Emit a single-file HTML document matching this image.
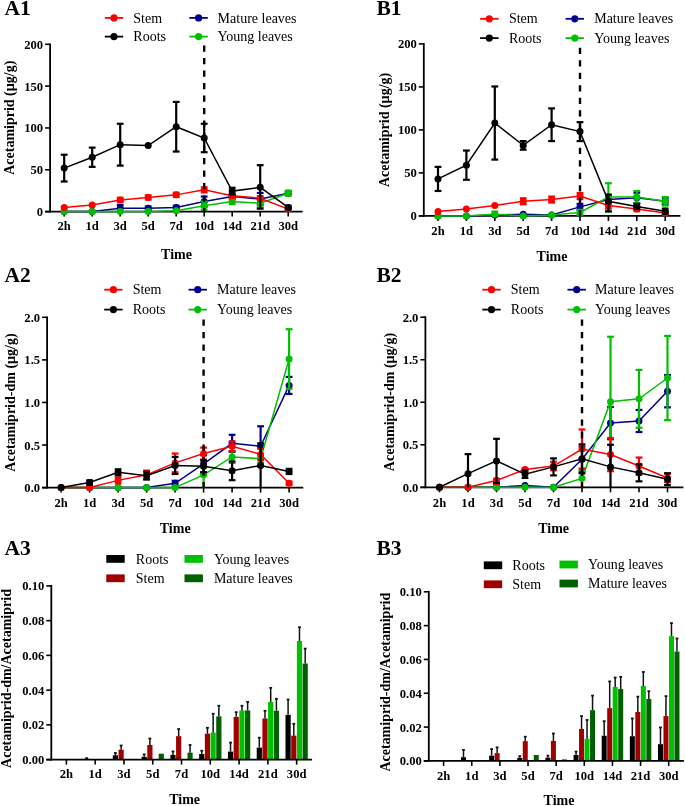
<!DOCTYPE html>
<html><head><meta charset="utf-8"><title>Acetamiprid figure</title>
<style>
html,body{margin:0;padding:0;background:#fff;}
body{width:685px;height:806px;overflow:hidden;}
svg{display:block;will-change:transform;}
text{font-family:"Liberation Serif",serif;fill:#000;}
.tk{font-size:12.6px;font-weight:bold;}
.ttl{font-size:14px;font-weight:bold;}
.pl{font-size:21.5px;font-weight:bold;}
.lg{font-size:14px;}
</style></head>
<body>
<svg width="685" height="806" viewBox="0 0 685 806">
<rect width="685" height="806" fill="#fff"/>
<line x1="50.1" y1="43.4" x2="50.1" y2="212.5" stroke="#000" stroke-width="1.8"/>
<line x1="45.1" y1="211.6" x2="302.6" y2="211.6" stroke="#000" stroke-width="1.8"/>
<line x1="45.1" y1="211.6" x2="50.1" y2="211.6" stroke="#000" stroke-width="1.6"/>
<text x="43.1" y="216.1" class="tk" text-anchor="end">0</text>
<line x1="45.1" y1="169.77" x2="50.1" y2="169.77" stroke="#000" stroke-width="1.6"/>
<text x="43.1" y="174.27" class="tk" text-anchor="end">50</text>
<line x1="45.1" y1="127.95" x2="50.1" y2="127.95" stroke="#000" stroke-width="1.6"/>
<text x="43.1" y="132.45" class="tk" text-anchor="end">100</text>
<line x1="45.1" y1="86.12" x2="50.1" y2="86.12" stroke="#000" stroke-width="1.6"/>
<text x="43.1" y="90.62" class="tk" text-anchor="end">150</text>
<line x1="45.1" y1="44.3" x2="50.1" y2="44.3" stroke="#000" stroke-width="1.6"/>
<text x="43.1" y="48.8" class="tk" text-anchor="end">200</text>
<line x1="64.2" y1="211.6" x2="64.2" y2="216.6" stroke="#000" stroke-width="1.6"/>
<text x="64.2" y="229.8" class="tk" text-anchor="middle">2h</text>
<line x1="92.2" y1="211.6" x2="92.2" y2="216.6" stroke="#000" stroke-width="1.6"/>
<text x="92.2" y="229.8" class="tk" text-anchor="middle">1d</text>
<line x1="120.2" y1="211.6" x2="120.2" y2="216.6" stroke="#000" stroke-width="1.6"/>
<text x="120.2" y="229.8" class="tk" text-anchor="middle">3d</text>
<line x1="148.2" y1="211.6" x2="148.2" y2="216.6" stroke="#000" stroke-width="1.6"/>
<text x="148.2" y="229.8" class="tk" text-anchor="middle">5d</text>
<line x1="176.2" y1="211.6" x2="176.2" y2="216.6" stroke="#000" stroke-width="1.6"/>
<text x="176.2" y="229.8" class="tk" text-anchor="middle">7d</text>
<line x1="204.2" y1="211.6" x2="204.2" y2="216.6" stroke="#000" stroke-width="1.6"/>
<text x="204.2" y="229.8" class="tk" text-anchor="middle">10d</text>
<line x1="232.2" y1="211.6" x2="232.2" y2="216.6" stroke="#000" stroke-width="1.6"/>
<text x="232.2" y="229.8" class="tk" text-anchor="middle">14d</text>
<line x1="260.2" y1="211.6" x2="260.2" y2="216.6" stroke="#000" stroke-width="1.6"/>
<text x="260.2" y="229.8" class="tk" text-anchor="middle">21d</text>
<line x1="288.2" y1="211.6" x2="288.2" y2="216.6" stroke="#000" stroke-width="1.6"/>
<text x="288.2" y="229.8" class="tk" text-anchor="middle">30d</text>
<text x="176.5" y="258.5" class="ttl" text-anchor="middle">Time</text>
<text x="4.6" y="14.6" class="pl">A1</text>
<text transform="translate(13.9,117.7) rotate(-90)" class="ttl" text-anchor="middle">Acetamiprid (µg/g)</text>
<polyline points="64.2,211.6 92.2,211.6 120.2,208.25 148.2,208.25 176.2,207.42 204.2,201.56 232.2,196.54 260.2,199.05 288.2,193.2" fill="none" stroke="#000090" stroke-width="1.5"/>
<circle cx="64.2" cy="211.6" r="3.5" fill="#000090"/>
<circle cx="92.2" cy="211.6" r="3.5" fill="#000090"/>
<line x1="120.2" y1="211.6" x2="120.2" y2="204.91" stroke="#000090" stroke-width="2.2"/>
<line x1="116.8" y1="204.91" x2="123.6" y2="204.91" stroke="#000090" stroke-width="2.2"/>
<circle cx="120.2" cy="208.25" r="3.5" fill="#000090"/>
<line x1="148.2" y1="209.93" x2="148.2" y2="206.58" stroke="#000090" stroke-width="2.2"/>
<line x1="144.8" y1="206.58" x2="151.6" y2="206.58" stroke="#000090" stroke-width="2.2"/>
<line x1="144.8" y1="209.93" x2="151.6" y2="209.93" stroke="#000090" stroke-width="2.2"/>
<circle cx="148.2" cy="208.25" r="3.5" fill="#000090"/>
<line x1="176.2" y1="209.09" x2="176.2" y2="205.74" stroke="#000090" stroke-width="2.2"/>
<line x1="172.8" y1="205.74" x2="179.6" y2="205.74" stroke="#000090" stroke-width="2.2"/>
<line x1="172.8" y1="209.09" x2="179.6" y2="209.09" stroke="#000090" stroke-width="2.2"/>
<circle cx="176.2" cy="207.42" r="3.5" fill="#000090"/>
<line x1="204.2" y1="206.58" x2="204.2" y2="196.54" stroke="#000090" stroke-width="2.2"/>
<line x1="200.8" y1="196.54" x2="207.6" y2="196.54" stroke="#000090" stroke-width="2.2"/>
<line x1="200.8" y1="206.58" x2="207.6" y2="206.58" stroke="#000090" stroke-width="2.2"/>
<circle cx="204.2" cy="201.56" r="3.5" fill="#000090"/>
<line x1="232.2" y1="199.05" x2="232.2" y2="194.03" stroke="#000090" stroke-width="2.2"/>
<line x1="228.8" y1="194.03" x2="235.6" y2="194.03" stroke="#000090" stroke-width="2.2"/>
<line x1="228.8" y1="199.05" x2="235.6" y2="199.05" stroke="#000090" stroke-width="2.2"/>
<circle cx="232.2" cy="196.54" r="3.5" fill="#000090"/>
<line x1="260.2" y1="205.16" x2="260.2" y2="192.95" stroke="#000090" stroke-width="2.2"/>
<line x1="256.8" y1="192.95" x2="263.6" y2="192.95" stroke="#000090" stroke-width="2.2"/>
<line x1="256.8" y1="205.16" x2="263.6" y2="205.16" stroke="#000090" stroke-width="2.2"/>
<circle cx="260.2" cy="199.05" r="3.5" fill="#000090"/>
<line x1="288.2" y1="194.87" x2="288.2" y2="191.52" stroke="#000090" stroke-width="2.2"/>
<line x1="284.8" y1="191.52" x2="291.6" y2="191.52" stroke="#000090" stroke-width="2.2"/>
<line x1="284.8" y1="194.87" x2="291.6" y2="194.87" stroke="#000090" stroke-width="2.2"/>
<circle cx="288.2" cy="193.2" r="3.5" fill="#000090"/>
<polyline points="64.2,211.6 92.2,211.6 120.2,211.6 148.2,211.6 176.2,210.76 204.2,205.74 232.2,201.56 260.2,203.23 288.2,193.2" fill="none" stroke="#00c000" stroke-width="1.5"/>
<circle cx="64.2" cy="211.6" r="3.5" fill="#00c000"/>
<circle cx="92.2" cy="211.6" r="3.5" fill="#00c000"/>
<circle cx="120.2" cy="211.6" r="3.5" fill="#00c000"/>
<circle cx="148.2" cy="211.6" r="3.5" fill="#00c000"/>
<circle cx="176.2" cy="210.76" r="3.5" fill="#00c000"/>
<line x1="204.2" y1="209.93" x2="204.2" y2="201.56" stroke="#00c000" stroke-width="2.2"/>
<line x1="200.8" y1="201.56" x2="207.6" y2="201.56" stroke="#00c000" stroke-width="2.2"/>
<line x1="200.8" y1="209.93" x2="207.6" y2="209.93" stroke="#00c000" stroke-width="2.2"/>
<circle cx="204.2" cy="205.74" r="3.5" fill="#00c000"/>
<line x1="232.2" y1="204.07" x2="232.2" y2="199.05" stroke="#00c000" stroke-width="2.2"/>
<line x1="228.8" y1="199.05" x2="235.6" y2="199.05" stroke="#00c000" stroke-width="2.2"/>
<line x1="228.8" y1="204.07" x2="235.6" y2="204.07" stroke="#00c000" stroke-width="2.2"/>
<circle cx="232.2" cy="201.56" r="3.5" fill="#00c000"/>
<line x1="260.2" y1="207.42" x2="260.2" y2="199.05" stroke="#00c000" stroke-width="2.2"/>
<line x1="256.8" y1="199.05" x2="263.6" y2="199.05" stroke="#00c000" stroke-width="2.2"/>
<line x1="256.8" y1="207.42" x2="263.6" y2="207.42" stroke="#00c000" stroke-width="2.2"/>
<circle cx="260.2" cy="203.23" r="3.5" fill="#00c000"/>
<line x1="288.2" y1="195.71" x2="288.2" y2="190.69" stroke="#00c000" stroke-width="2.2"/>
<line x1="284.8" y1="190.69" x2="291.6" y2="190.69" stroke="#00c000" stroke-width="2.2"/>
<line x1="284.8" y1="195.71" x2="291.6" y2="195.71" stroke="#00c000" stroke-width="2.2"/>
<circle cx="288.2" cy="193.2" r="3.5" fill="#00c000"/>
<polyline points="64.2,207.42 92.2,204.91 120.2,199.89 148.2,197.38 176.2,194.87 204.2,189.85 232.2,195.71 260.2,198.22 288.2,209.09" fill="none" stroke="#ff0000" stroke-width="1.5"/>
<circle cx="64.2" cy="207.42" r="3.5" fill="#ff0000"/>
<circle cx="92.2" cy="204.91" r="3.5" fill="#ff0000"/>
<line x1="120.2" y1="201.98" x2="120.2" y2="197.8" stroke="#ff0000" stroke-width="2.2"/>
<line x1="116.8" y1="197.8" x2="123.6" y2="197.8" stroke="#ff0000" stroke-width="2.2"/>
<line x1="116.8" y1="201.98" x2="123.6" y2="201.98" stroke="#ff0000" stroke-width="2.2"/>
<circle cx="120.2" cy="199.89" r="3.5" fill="#ff0000"/>
<line x1="148.2" y1="199.47" x2="148.2" y2="195.29" stroke="#ff0000" stroke-width="2.2"/>
<line x1="144.8" y1="195.29" x2="151.6" y2="195.29" stroke="#ff0000" stroke-width="2.2"/>
<line x1="144.8" y1="199.47" x2="151.6" y2="199.47" stroke="#ff0000" stroke-width="2.2"/>
<circle cx="148.2" cy="197.38" r="3.5" fill="#ff0000"/>
<line x1="176.2" y1="196.96" x2="176.2" y2="192.78" stroke="#ff0000" stroke-width="2.2"/>
<line x1="172.8" y1="192.78" x2="179.6" y2="192.78" stroke="#ff0000" stroke-width="2.2"/>
<line x1="172.8" y1="196.96" x2="179.6" y2="196.96" stroke="#ff0000" stroke-width="2.2"/>
<circle cx="176.2" cy="194.87" r="3.5" fill="#ff0000"/>
<line x1="204.2" y1="192.36" x2="204.2" y2="187.34" stroke="#ff0000" stroke-width="2.2"/>
<line x1="200.8" y1="187.34" x2="207.6" y2="187.34" stroke="#ff0000" stroke-width="2.2"/>
<line x1="200.8" y1="192.36" x2="207.6" y2="192.36" stroke="#ff0000" stroke-width="2.2"/>
<circle cx="204.2" cy="189.85" r="3.5" fill="#ff0000"/>
<line x1="232.2" y1="197.8" x2="232.2" y2="193.62" stroke="#ff0000" stroke-width="2.2"/>
<line x1="228.8" y1="193.62" x2="235.6" y2="193.62" stroke="#ff0000" stroke-width="2.2"/>
<line x1="228.8" y1="197.8" x2="235.6" y2="197.8" stroke="#ff0000" stroke-width="2.2"/>
<circle cx="232.2" cy="195.71" r="3.5" fill="#ff0000"/>
<line x1="260.2" y1="200.31" x2="260.2" y2="196.12" stroke="#ff0000" stroke-width="2.2"/>
<line x1="256.8" y1="196.12" x2="263.6" y2="196.12" stroke="#ff0000" stroke-width="2.2"/>
<line x1="256.8" y1="200.31" x2="263.6" y2="200.31" stroke="#ff0000" stroke-width="2.2"/>
<circle cx="260.2" cy="198.22" r="3.5" fill="#ff0000"/>
<line x1="288.2" y1="210.76" x2="288.2" y2="207.42" stroke="#ff0000" stroke-width="2.2"/>
<line x1="284.8" y1="207.42" x2="291.6" y2="207.42" stroke="#ff0000" stroke-width="2.2"/>
<line x1="284.8" y1="210.76" x2="291.6" y2="210.76" stroke="#ff0000" stroke-width="2.2"/>
<circle cx="288.2" cy="209.09" r="3.5" fill="#ff0000"/>
<polyline points="64.2,168.1 92.2,157.23 120.2,144.68 148.2,145.52 176.2,126.7 204.2,137.99 232.2,191.11 260.2,187.34 288.2,207.42" fill="none" stroke="#000000" stroke-width="1.5"/>
<line x1="64.2" y1="181.49" x2="64.2" y2="154.72" stroke="#000000" stroke-width="2.2"/>
<line x1="60.8" y1="154.72" x2="67.6" y2="154.72" stroke="#000000" stroke-width="2.2"/>
<line x1="60.8" y1="181.49" x2="67.6" y2="181.49" stroke="#000000" stroke-width="2.2"/>
<circle cx="64.2" cy="168.1" r="3.5" fill="#000000"/>
<line x1="92.2" y1="166.85" x2="92.2" y2="147.61" stroke="#000000" stroke-width="2.2"/>
<line x1="88.8" y1="147.61" x2="95.6" y2="147.61" stroke="#000000" stroke-width="2.2"/>
<line x1="88.8" y1="166.85" x2="95.6" y2="166.85" stroke="#000000" stroke-width="2.2"/>
<circle cx="92.2" cy="157.23" r="3.5" fill="#000000"/>
<line x1="120.2" y1="165.59" x2="120.2" y2="123.77" stroke="#000000" stroke-width="2.2"/>
<line x1="116.8" y1="123.77" x2="123.6" y2="123.77" stroke="#000000" stroke-width="2.2"/>
<line x1="116.8" y1="165.59" x2="123.6" y2="165.59" stroke="#000000" stroke-width="2.2"/>
<circle cx="120.2" cy="144.68" r="3.5" fill="#000000"/>
<circle cx="148.2" cy="145.52" r="3.5" fill="#000000"/>
<line x1="176.2" y1="151.54" x2="176.2" y2="101.93" stroke="#000000" stroke-width="2.2"/>
<line x1="172.8" y1="101.93" x2="179.6" y2="101.93" stroke="#000000" stroke-width="2.2"/>
<line x1="172.8" y1="151.54" x2="179.6" y2="151.54" stroke="#000000" stroke-width="2.2"/>
<circle cx="176.2" cy="126.7" r="3.5" fill="#000000"/>
<line x1="204.2" y1="152.21" x2="204.2" y2="123.77" stroke="#000000" stroke-width="2.2"/>
<line x1="200.8" y1="123.77" x2="207.6" y2="123.77" stroke="#000000" stroke-width="2.2"/>
<line x1="200.8" y1="152.21" x2="207.6" y2="152.21" stroke="#000000" stroke-width="2.2"/>
<circle cx="204.2" cy="137.99" r="3.5" fill="#000000"/>
<line x1="232.2" y1="194.45" x2="232.2" y2="187.76" stroke="#000000" stroke-width="2.2"/>
<line x1="228.8" y1="187.76" x2="235.6" y2="187.76" stroke="#000000" stroke-width="2.2"/>
<line x1="228.8" y1="194.45" x2="235.6" y2="194.45" stroke="#000000" stroke-width="2.2"/>
<circle cx="232.2" cy="191.11" r="3.5" fill="#000000"/>
<line x1="260.2" y1="208.67" x2="260.2" y2="165.17" stroke="#000000" stroke-width="2.2"/>
<line x1="256.8" y1="165.17" x2="263.6" y2="165.17" stroke="#000000" stroke-width="2.2"/>
<line x1="256.8" y1="208.67" x2="263.6" y2="208.67" stroke="#000000" stroke-width="2.2"/>
<circle cx="260.2" cy="187.34" r="3.5" fill="#000000"/>
<line x1="288.2" y1="209.09" x2="288.2" y2="205.74" stroke="#000000" stroke-width="2.2"/>
<line x1="284.8" y1="205.74" x2="291.6" y2="205.74" stroke="#000000" stroke-width="2.2"/>
<line x1="284.8" y1="209.09" x2="291.6" y2="209.09" stroke="#000000" stroke-width="2.2"/>
<circle cx="288.2" cy="207.42" r="3.5" fill="#000000"/>
<line x1="204.2" y1="45.4" x2="204.2" y2="211.6" stroke="#000" stroke-width="2.4" stroke-dasharray="6.3,6.2"/>
<line x1="104.8" y1="17.9" x2="123.2" y2="17.9" stroke="#ff0000" stroke-width="1.8"/>
<circle cx="114" cy="17.9" r="3.6" fill="#ff0000"/>
<text x="133.3" y="22.5" class="lg">Stem</text>
<line x1="104.8" y1="36.6" x2="123.2" y2="36.6" stroke="#000000" stroke-width="1.8"/>
<circle cx="114" cy="36.6" r="3.6" fill="#000000"/>
<text x="133.3" y="41.2" class="lg">Roots</text>
<line x1="189.4" y1="17.9" x2="207.8" y2="17.9" stroke="#000090" stroke-width="1.8"/>
<circle cx="198.6" cy="17.9" r="3.6" fill="#000090"/>
<text x="217.6" y="22.5" class="lg">Mature leaves</text>
<line x1="189.4" y1="36.6" x2="207.8" y2="36.6" stroke="#00c000" stroke-width="1.8"/>
<circle cx="198.6" cy="36.6" r="3.6" fill="#00c000"/>
<text x="217.6" y="41.2" class="lg">Young leaves</text>
<line x1="423.8" y1="43" x2="423.8" y2="216.8" stroke="#000" stroke-width="1.8"/>
<line x1="418.8" y1="215.9" x2="680.4" y2="215.9" stroke="#000" stroke-width="1.8"/>
<line x1="418.8" y1="215.9" x2="423.8" y2="215.9" stroke="#000" stroke-width="1.6"/>
<text x="416.8" y="220.4" class="tk" text-anchor="end">0</text>
<line x1="418.8" y1="172.9" x2="423.8" y2="172.9" stroke="#000" stroke-width="1.6"/>
<text x="416.8" y="177.4" class="tk" text-anchor="end">50</text>
<line x1="418.8" y1="129.9" x2="423.8" y2="129.9" stroke="#000" stroke-width="1.6"/>
<text x="416.8" y="134.4" class="tk" text-anchor="end">100</text>
<line x1="418.8" y1="86.9" x2="423.8" y2="86.9" stroke="#000" stroke-width="1.6"/>
<text x="416.8" y="91.4" class="tk" text-anchor="end">150</text>
<line x1="418.8" y1="43.9" x2="423.8" y2="43.9" stroke="#000" stroke-width="1.6"/>
<text x="416.8" y="48.4" class="tk" text-anchor="end">200</text>
<line x1="438" y1="215.9" x2="438" y2="220.9" stroke="#000" stroke-width="1.6"/>
<text x="438" y="234.6" class="tk" text-anchor="middle">2h</text>
<line x1="466.4" y1="215.9" x2="466.4" y2="220.9" stroke="#000" stroke-width="1.6"/>
<text x="466.4" y="234.6" class="tk" text-anchor="middle">1d</text>
<line x1="494.8" y1="215.9" x2="494.8" y2="220.9" stroke="#000" stroke-width="1.6"/>
<text x="494.8" y="234.6" class="tk" text-anchor="middle">3d</text>
<line x1="523.2" y1="215.9" x2="523.2" y2="220.9" stroke="#000" stroke-width="1.6"/>
<text x="523.2" y="234.6" class="tk" text-anchor="middle">5d</text>
<line x1="551.6" y1="215.9" x2="551.6" y2="220.9" stroke="#000" stroke-width="1.6"/>
<text x="551.6" y="234.6" class="tk" text-anchor="middle">7d</text>
<line x1="580" y1="215.9" x2="580" y2="220.9" stroke="#000" stroke-width="1.6"/>
<text x="580" y="234.6" class="tk" text-anchor="middle">10d</text>
<line x1="608.4" y1="215.9" x2="608.4" y2="220.9" stroke="#000" stroke-width="1.6"/>
<text x="608.4" y="234.6" class="tk" text-anchor="middle">14d</text>
<line x1="636.8" y1="215.9" x2="636.8" y2="220.9" stroke="#000" stroke-width="1.6"/>
<text x="636.8" y="234.6" class="tk" text-anchor="middle">21d</text>
<line x1="665.2" y1="215.9" x2="665.2" y2="220.9" stroke="#000" stroke-width="1.6"/>
<text x="665.2" y="234.6" class="tk" text-anchor="middle">30d</text>
<text x="552" y="261.3" class="ttl" text-anchor="middle">Time</text>
<text x="376.4" y="14.6" class="pl">B1</text>
<text transform="translate(388.9,129.9) rotate(-90)" class="ttl" text-anchor="middle">Acetamiprid (µg/g)</text>
<polyline points="438,215.9 466.4,215.9 494.8,215.04 523.2,214.18 551.6,215.04 580,206.87 608.4,199.56 636.8,197.84 665.2,201.28" fill="none" stroke="#000090" stroke-width="1.5"/>
<circle cx="438" cy="215.9" r="3.5" fill="#000090"/>
<circle cx="466.4" cy="215.9" r="3.5" fill="#000090"/>
<circle cx="494.8" cy="215.04" r="3.5" fill="#000090"/>
<circle cx="523.2" cy="214.18" r="3.5" fill="#000090"/>
<circle cx="551.6" cy="215.04" r="3.5" fill="#000090"/>
<line x1="580" y1="209.88" x2="580" y2="203.86" stroke="#000090" stroke-width="2.2"/>
<line x1="576.6" y1="203.86" x2="583.4" y2="203.86" stroke="#000090" stroke-width="2.2"/>
<line x1="576.6" y1="209.88" x2="583.4" y2="209.88" stroke="#000090" stroke-width="2.2"/>
<circle cx="580" cy="206.87" r="3.5" fill="#000090"/>
<line x1="608.4" y1="203" x2="608.4" y2="196.12" stroke="#000090" stroke-width="2.2"/>
<line x1="605" y1="196.12" x2="611.8" y2="196.12" stroke="#000090" stroke-width="2.2"/>
<line x1="605" y1="203" x2="611.8" y2="203" stroke="#000090" stroke-width="2.2"/>
<circle cx="608.4" cy="199.56" r="3.5" fill="#000090"/>
<line x1="636.8" y1="203" x2="636.8" y2="192.68" stroke="#000090" stroke-width="2.2"/>
<line x1="633.4" y1="192.68" x2="640.2" y2="192.68" stroke="#000090" stroke-width="2.2"/>
<line x1="633.4" y1="203" x2="640.2" y2="203" stroke="#000090" stroke-width="2.2"/>
<circle cx="636.8" cy="197.84" r="3.5" fill="#000090"/>
<line x1="665.2" y1="204.29" x2="665.2" y2="198.27" stroke="#000090" stroke-width="2.2"/>
<line x1="661.8" y1="198.27" x2="668.6" y2="198.27" stroke="#000090" stroke-width="2.2"/>
<line x1="661.8" y1="204.29" x2="668.6" y2="204.29" stroke="#000090" stroke-width="2.2"/>
<circle cx="665.2" cy="201.28" r="3.5" fill="#000090"/>
<polyline points="438,215.9 466.4,215.9 494.8,214.18 523.2,215.9 551.6,215.04 580,212.46 608.4,196.98 636.8,196.98 665.2,201.28" fill="none" stroke="#00c000" stroke-width="1.5"/>
<circle cx="438" cy="215.9" r="3.5" fill="#00c000"/>
<circle cx="466.4" cy="215.9" r="3.5" fill="#00c000"/>
<line x1="494.8" y1="215.9" x2="494.8" y2="211.6" stroke="#00c000" stroke-width="2.2"/>
<line x1="491.4" y1="211.6" x2="498.2" y2="211.6" stroke="#00c000" stroke-width="2.2"/>
<circle cx="494.8" cy="214.18" r="3.5" fill="#00c000"/>
<circle cx="523.2" cy="215.9" r="3.5" fill="#00c000"/>
<circle cx="551.6" cy="215.04" r="3.5" fill="#00c000"/>
<line x1="580" y1="215.04" x2="580" y2="209.88" stroke="#00c000" stroke-width="2.2"/>
<line x1="576.6" y1="209.88" x2="583.4" y2="209.88" stroke="#00c000" stroke-width="2.2"/>
<line x1="576.6" y1="215.04" x2="583.4" y2="215.04" stroke="#00c000" stroke-width="2.2"/>
<circle cx="580" cy="212.46" r="3.5" fill="#00c000"/>
<line x1="608.4" y1="211.6" x2="608.4" y2="183.22" stroke="#00c000" stroke-width="2.2"/>
<line x1="605" y1="183.22" x2="611.8" y2="183.22" stroke="#00c000" stroke-width="2.2"/>
<line x1="605" y1="211.6" x2="611.8" y2="211.6" stroke="#00c000" stroke-width="2.2"/>
<circle cx="608.4" cy="196.98" r="3.5" fill="#00c000"/>
<line x1="636.8" y1="203" x2="636.8" y2="190.96" stroke="#00c000" stroke-width="2.2"/>
<line x1="633.4" y1="190.96" x2="640.2" y2="190.96" stroke="#00c000" stroke-width="2.2"/>
<line x1="633.4" y1="203" x2="640.2" y2="203" stroke="#00c000" stroke-width="2.2"/>
<circle cx="636.8" cy="196.98" r="3.5" fill="#00c000"/>
<line x1="665.2" y1="205.58" x2="665.2" y2="196.98" stroke="#00c000" stroke-width="2.2"/>
<line x1="661.8" y1="196.98" x2="668.6" y2="196.98" stroke="#00c000" stroke-width="2.2"/>
<line x1="661.8" y1="205.58" x2="668.6" y2="205.58" stroke="#00c000" stroke-width="2.2"/>
<circle cx="665.2" cy="201.28" r="3.5" fill="#00c000"/>
<polyline points="438,211.6 466.4,209.02 494.8,205.58 523.2,201.28 551.6,199.56 580,196.12 608.4,205.58 636.8,209.02 665.2,212.89" fill="none" stroke="#ff0000" stroke-width="1.5"/>
<circle cx="438" cy="211.6" r="3.5" fill="#ff0000"/>
<circle cx="466.4" cy="209.02" r="3.5" fill="#ff0000"/>
<circle cx="494.8" cy="205.58" r="3.5" fill="#ff0000"/>
<line x1="523.2" y1="204.29" x2="523.2" y2="198.27" stroke="#ff0000" stroke-width="2.2"/>
<line x1="519.8" y1="198.27" x2="526.6" y2="198.27" stroke="#ff0000" stroke-width="2.2"/>
<line x1="519.8" y1="204.29" x2="526.6" y2="204.29" stroke="#ff0000" stroke-width="2.2"/>
<circle cx="523.2" cy="201.28" r="3.5" fill="#ff0000"/>
<line x1="551.6" y1="202.57" x2="551.6" y2="196.55" stroke="#ff0000" stroke-width="2.2"/>
<line x1="548.2" y1="196.55" x2="555" y2="196.55" stroke="#ff0000" stroke-width="2.2"/>
<line x1="548.2" y1="202.57" x2="555" y2="202.57" stroke="#ff0000" stroke-width="2.2"/>
<circle cx="551.6" cy="199.56" r="3.5" fill="#ff0000"/>
<line x1="580" y1="199.13" x2="580" y2="193.11" stroke="#ff0000" stroke-width="2.2"/>
<line x1="576.6" y1="193.11" x2="583.4" y2="193.11" stroke="#ff0000" stroke-width="2.2"/>
<line x1="576.6" y1="199.13" x2="583.4" y2="199.13" stroke="#ff0000" stroke-width="2.2"/>
<circle cx="580" cy="196.12" r="3.5" fill="#ff0000"/>
<line x1="608.4" y1="208.59" x2="608.4" y2="202.57" stroke="#ff0000" stroke-width="2.2"/>
<line x1="605" y1="202.57" x2="611.8" y2="202.57" stroke="#ff0000" stroke-width="2.2"/>
<line x1="605" y1="208.59" x2="611.8" y2="208.59" stroke="#ff0000" stroke-width="2.2"/>
<circle cx="608.4" cy="205.58" r="3.5" fill="#ff0000"/>
<line x1="636.8" y1="211.17" x2="636.8" y2="206.87" stroke="#ff0000" stroke-width="2.2"/>
<line x1="633.4" y1="206.87" x2="640.2" y2="206.87" stroke="#ff0000" stroke-width="2.2"/>
<line x1="633.4" y1="211.17" x2="640.2" y2="211.17" stroke="#ff0000" stroke-width="2.2"/>
<circle cx="636.8" cy="209.02" r="3.5" fill="#ff0000"/>
<line x1="665.2" y1="214.61" x2="665.2" y2="211.17" stroke="#ff0000" stroke-width="2.2"/>
<line x1="661.8" y1="211.17" x2="668.6" y2="211.17" stroke="#ff0000" stroke-width="2.2"/>
<line x1="661.8" y1="214.61" x2="668.6" y2="214.61" stroke="#ff0000" stroke-width="2.2"/>
<circle cx="665.2" cy="212.89" r="3.5" fill="#ff0000"/>
<polyline points="438,178.92 466.4,165.16 494.8,123.02 523.2,145.38 551.6,124.74 580,131.62 608.4,201.28 636.8,206.44 665.2,211.17" fill="none" stroke="#000000" stroke-width="1.5"/>
<line x1="438" y1="190.96" x2="438" y2="166.88" stroke="#000000" stroke-width="2.2"/>
<line x1="434.6" y1="166.88" x2="441.4" y2="166.88" stroke="#000000" stroke-width="2.2"/>
<line x1="434.6" y1="190.96" x2="441.4" y2="190.96" stroke="#000000" stroke-width="2.2"/>
<circle cx="438" cy="178.92" r="3.5" fill="#000000"/>
<line x1="466.4" y1="179.78" x2="466.4" y2="150.54" stroke="#000000" stroke-width="2.2"/>
<line x1="463" y1="150.54" x2="469.8" y2="150.54" stroke="#000000" stroke-width="2.2"/>
<line x1="463" y1="179.78" x2="469.8" y2="179.78" stroke="#000000" stroke-width="2.2"/>
<circle cx="466.4" cy="165.16" r="3.5" fill="#000000"/>
<line x1="494.8" y1="159.57" x2="494.8" y2="86.47" stroke="#000000" stroke-width="2.2"/>
<line x1="491.4" y1="86.47" x2="498.2" y2="86.47" stroke="#000000" stroke-width="2.2"/>
<line x1="491.4" y1="159.57" x2="498.2" y2="159.57" stroke="#000000" stroke-width="2.2"/>
<circle cx="494.8" cy="123.02" r="3.5" fill="#000000"/>
<line x1="523.2" y1="149.68" x2="523.2" y2="141.08" stroke="#000000" stroke-width="2.2"/>
<line x1="519.8" y1="141.08" x2="526.6" y2="141.08" stroke="#000000" stroke-width="2.2"/>
<line x1="519.8" y1="149.68" x2="526.6" y2="149.68" stroke="#000000" stroke-width="2.2"/>
<circle cx="523.2" cy="145.38" r="3.5" fill="#000000"/>
<line x1="551.6" y1="141.08" x2="551.6" y2="108.4" stroke="#000000" stroke-width="2.2"/>
<line x1="548.2" y1="108.4" x2="555" y2="108.4" stroke="#000000" stroke-width="2.2"/>
<line x1="548.2" y1="141.08" x2="555" y2="141.08" stroke="#000000" stroke-width="2.2"/>
<circle cx="551.6" cy="124.74" r="3.5" fill="#000000"/>
<line x1="580" y1="141.08" x2="580" y2="122.16" stroke="#000000" stroke-width="2.2"/>
<line x1="576.6" y1="122.16" x2="583.4" y2="122.16" stroke="#000000" stroke-width="2.2"/>
<line x1="576.6" y1="141.08" x2="583.4" y2="141.08" stroke="#000000" stroke-width="2.2"/>
<circle cx="580" cy="131.62" r="3.5" fill="#000000"/>
<line x1="608.4" y1="211.34" x2="608.4" y2="194.57" stroke="#000000" stroke-width="2.2"/>
<line x1="605" y1="194.57" x2="611.8" y2="194.57" stroke="#000000" stroke-width="2.2"/>
<line x1="605" y1="211.34" x2="611.8" y2="211.34" stroke="#000000" stroke-width="2.2"/>
<circle cx="608.4" cy="201.28" r="3.5" fill="#000000"/>
<line x1="636.8" y1="209.02" x2="636.8" y2="203.86" stroke="#000000" stroke-width="2.2"/>
<line x1="633.4" y1="203.86" x2="640.2" y2="203.86" stroke="#000000" stroke-width="2.2"/>
<line x1="633.4" y1="209.02" x2="640.2" y2="209.02" stroke="#000000" stroke-width="2.2"/>
<circle cx="636.8" cy="206.44" r="3.5" fill="#000000"/>
<line x1="665.2" y1="213.75" x2="665.2" y2="208.59" stroke="#000000" stroke-width="2.2"/>
<line x1="661.8" y1="208.59" x2="668.6" y2="208.59" stroke="#000000" stroke-width="2.2"/>
<line x1="661.8" y1="213.75" x2="668.6" y2="213.75" stroke="#000000" stroke-width="2.2"/>
<circle cx="665.2" cy="211.17" r="3.5" fill="#000000"/>
<line x1="580" y1="47.7" x2="580" y2="215.9" stroke="#000" stroke-width="2.4" stroke-dasharray="6.3,6.2"/>
<line x1="480.1" y1="18.8" x2="498.5" y2="18.8" stroke="#ff0000" stroke-width="1.8"/>
<circle cx="489.3" cy="18.8" r="3.6" fill="#ff0000"/>
<text x="508.9" y="23.4" class="lg">Stem</text>
<line x1="480.1" y1="38.1" x2="498.5" y2="38.1" stroke="#000000" stroke-width="1.8"/>
<circle cx="489.3" cy="38.1" r="3.6" fill="#000000"/>
<text x="508.9" y="42.7" class="lg">Roots</text>
<line x1="565.6" y1="18.8" x2="584" y2="18.8" stroke="#000090" stroke-width="1.8"/>
<circle cx="574.8" cy="18.8" r="3.6" fill="#000090"/>
<text x="594.2" y="23.4" class="lg">Mature leaves</text>
<line x1="565.6" y1="38.1" x2="584" y2="38.1" stroke="#00c000" stroke-width="1.8"/>
<circle cx="574.8" cy="38.1" r="3.6" fill="#00c000"/>
<text x="594.2" y="42.7" class="lg">Young leaves</text>
<line x1="47.1" y1="316.4" x2="47.1" y2="488.5" stroke="#000" stroke-width="1.8"/>
<line x1="42.1" y1="487.6" x2="303.3" y2="487.6" stroke="#000" stroke-width="1.8"/>
<line x1="42.1" y1="487.6" x2="47.1" y2="487.6" stroke="#000" stroke-width="1.6"/>
<text x="40.1" y="492.1" class="tk" text-anchor="end">0.0</text>
<line x1="42.1" y1="445.03" x2="47.1" y2="445.03" stroke="#000" stroke-width="1.6"/>
<text x="40.1" y="449.53" class="tk" text-anchor="end">0.5</text>
<line x1="42.1" y1="402.45" x2="47.1" y2="402.45" stroke="#000" stroke-width="1.6"/>
<text x="40.1" y="406.95" class="tk" text-anchor="end">1.0</text>
<line x1="42.1" y1="359.88" x2="47.1" y2="359.88" stroke="#000" stroke-width="1.6"/>
<text x="40.1" y="364.38" class="tk" text-anchor="end">1.5</text>
<line x1="42.1" y1="317.3" x2="47.1" y2="317.3" stroke="#000" stroke-width="1.6"/>
<text x="40.1" y="321.8" class="tk" text-anchor="end">2.0</text>
<line x1="61.1" y1="487.6" x2="61.1" y2="492.6" stroke="#000" stroke-width="1.6"/>
<text x="61.1" y="506.8" class="tk" text-anchor="middle">2h</text>
<line x1="89.6" y1="487.6" x2="89.6" y2="492.6" stroke="#000" stroke-width="1.6"/>
<text x="89.6" y="506.8" class="tk" text-anchor="middle">1d</text>
<line x1="118.1" y1="487.6" x2="118.1" y2="492.6" stroke="#000" stroke-width="1.6"/>
<text x="118.1" y="506.8" class="tk" text-anchor="middle">3d</text>
<line x1="146.6" y1="487.6" x2="146.6" y2="492.6" stroke="#000" stroke-width="1.6"/>
<text x="146.6" y="506.8" class="tk" text-anchor="middle">5d</text>
<line x1="175.1" y1="487.6" x2="175.1" y2="492.6" stroke="#000" stroke-width="1.6"/>
<text x="175.1" y="506.8" class="tk" text-anchor="middle">7d</text>
<line x1="203.6" y1="487.6" x2="203.6" y2="492.6" stroke="#000" stroke-width="1.6"/>
<text x="203.6" y="506.8" class="tk" text-anchor="middle">10d</text>
<line x1="232.1" y1="487.6" x2="232.1" y2="492.6" stroke="#000" stroke-width="1.6"/>
<text x="232.1" y="506.8" class="tk" text-anchor="middle">14d</text>
<line x1="260.6" y1="487.6" x2="260.6" y2="492.6" stroke="#000" stroke-width="1.6"/>
<text x="260.6" y="506.8" class="tk" text-anchor="middle">21d</text>
<line x1="289.1" y1="487.6" x2="289.1" y2="492.6" stroke="#000" stroke-width="1.6"/>
<text x="289.1" y="506.8" class="tk" text-anchor="middle">30d</text>
<text x="175.2" y="533.4" class="ttl" text-anchor="middle">Time</text>
<text x="4.6" y="281.9" class="pl">A2</text>
<text transform="translate(15.2,402.5) rotate(-90)" class="ttl" text-anchor="middle">Acetamiprid-dm (µg/g)</text>
<polyline points="61.1,487.6 89.6,487.6 118.1,487.6 146.6,487.6 175.1,483.34 203.6,463.76 232.1,443.32 260.6,446.3 289.1,385.42" fill="none" stroke="#000090" stroke-width="1.5"/>
<circle cx="61.1" cy="487.6" r="3.5" fill="#000090"/>
<circle cx="89.6" cy="487.6" r="3.5" fill="#000090"/>
<circle cx="118.1" cy="487.6" r="3.5" fill="#000090"/>
<circle cx="146.6" cy="487.6" r="3.5" fill="#000090"/>
<line x1="175.1" y1="485.9" x2="175.1" y2="480.79" stroke="#000090" stroke-width="2.2"/>
<line x1="171.7" y1="480.79" x2="178.5" y2="480.79" stroke="#000090" stroke-width="2.2"/>
<line x1="171.7" y1="485.9" x2="178.5" y2="485.9" stroke="#000090" stroke-width="2.2"/>
<circle cx="175.1" cy="483.34" r="3.5" fill="#000090"/>
<line x1="203.6" y1="472.27" x2="203.6" y2="455.24" stroke="#000090" stroke-width="2.2"/>
<line x1="200.2" y1="455.24" x2="207" y2="455.24" stroke="#000090" stroke-width="2.2"/>
<line x1="200.2" y1="472.27" x2="207" y2="472.27" stroke="#000090" stroke-width="2.2"/>
<circle cx="203.6" cy="463.76" r="3.5" fill="#000090"/>
<line x1="232.1" y1="451.84" x2="232.1" y2="434.81" stroke="#000090" stroke-width="2.2"/>
<line x1="228.7" y1="434.81" x2="235.5" y2="434.81" stroke="#000090" stroke-width="2.2"/>
<line x1="228.7" y1="451.84" x2="235.5" y2="451.84" stroke="#000090" stroke-width="2.2"/>
<circle cx="232.1" cy="443.32" r="3.5" fill="#000090"/>
<line x1="260.6" y1="466.31" x2="260.6" y2="426.29" stroke="#000090" stroke-width="2.2"/>
<line x1="257.2" y1="426.29" x2="264" y2="426.29" stroke="#000090" stroke-width="2.2"/>
<line x1="257.2" y1="466.31" x2="264" y2="466.31" stroke="#000090" stroke-width="2.2"/>
<circle cx="260.6" cy="446.3" r="3.5" fill="#000090"/>
<line x1="289.1" y1="393.94" x2="289.1" y2="376.91" stroke="#000090" stroke-width="2.2"/>
<line x1="285.7" y1="376.91" x2="292.5" y2="376.91" stroke="#000090" stroke-width="2.2"/>
<line x1="285.7" y1="393.94" x2="292.5" y2="393.94" stroke="#000090" stroke-width="2.2"/>
<circle cx="289.1" cy="385.42" r="3.5" fill="#000090"/>
<polyline points="61.1,487.6 89.6,487.6 118.1,487.6 146.6,487.6 175.1,487.6 203.6,474.83 232.1,456.95 260.6,458.65 289.1,359.02" fill="none" stroke="#00c000" stroke-width="1.5"/>
<circle cx="61.1" cy="487.6" r="3.5" fill="#00c000"/>
<circle cx="89.6" cy="487.6" r="3.5" fill="#00c000"/>
<circle cx="118.1" cy="487.6" r="3.5" fill="#00c000"/>
<circle cx="146.6" cy="487.6" r="3.5" fill="#00c000"/>
<circle cx="175.1" cy="487.6" r="3.5" fill="#00c000"/>
<line x1="203.6" y1="487.6" x2="203.6" y2="467.16" stroke="#00c000" stroke-width="2.2"/>
<line x1="200.2" y1="467.16" x2="207" y2="467.16" stroke="#00c000" stroke-width="2.2"/>
<circle cx="203.6" cy="474.83" r="3.5" fill="#00c000"/>
<line x1="232.1" y1="462.91" x2="232.1" y2="450.99" stroke="#00c000" stroke-width="2.2"/>
<line x1="228.7" y1="450.99" x2="235.5" y2="450.99" stroke="#00c000" stroke-width="2.2"/>
<line x1="228.7" y1="462.91" x2="235.5" y2="462.91" stroke="#00c000" stroke-width="2.2"/>
<circle cx="232.1" cy="456.95" r="3.5" fill="#00c000"/>
<line x1="260.6" y1="462.91" x2="260.6" y2="454.39" stroke="#00c000" stroke-width="2.2"/>
<line x1="257.2" y1="454.39" x2="264" y2="454.39" stroke="#00c000" stroke-width="2.2"/>
<line x1="257.2" y1="462.91" x2="264" y2="462.91" stroke="#00c000" stroke-width="2.2"/>
<circle cx="260.6" cy="458.65" r="3.5" fill="#00c000"/>
<line x1="289.1" y1="388.83" x2="289.1" y2="329.22" stroke="#00c000" stroke-width="2.2"/>
<line x1="285.7" y1="329.22" x2="292.5" y2="329.22" stroke="#00c000" stroke-width="2.2"/>
<line x1="285.7" y1="388.83" x2="292.5" y2="388.83" stroke="#00c000" stroke-width="2.2"/>
<circle cx="289.1" cy="359.02" r="3.5" fill="#00c000"/>
<polyline points="61.1,487.6 89.6,487.6 118.1,480.36 146.6,474.83 175.1,462.91 203.6,453.54 232.1,446.3 260.6,454.39 289.1,483.34" fill="none" stroke="#ff0000" stroke-width="1.5"/>
<circle cx="61.1" cy="487.6" r="3.5" fill="#ff0000"/>
<circle cx="89.6" cy="487.6" r="3.5" fill="#ff0000"/>
<line x1="118.1" y1="483.34" x2="118.1" y2="477.38" stroke="#ff0000" stroke-width="2.2"/>
<line x1="114.7" y1="477.38" x2="121.5" y2="477.38" stroke="#ff0000" stroke-width="2.2"/>
<line x1="114.7" y1="483.34" x2="121.5" y2="483.34" stroke="#ff0000" stroke-width="2.2"/>
<circle cx="118.1" cy="480.36" r="3.5" fill="#ff0000"/>
<line x1="146.6" y1="479.09" x2="146.6" y2="470.57" stroke="#ff0000" stroke-width="2.2"/>
<line x1="143.2" y1="470.57" x2="150" y2="470.57" stroke="#ff0000" stroke-width="2.2"/>
<line x1="143.2" y1="479.09" x2="150" y2="479.09" stroke="#ff0000" stroke-width="2.2"/>
<circle cx="146.6" cy="474.83" r="3.5" fill="#ff0000"/>
<line x1="175.1" y1="472.27" x2="175.1" y2="453.54" stroke="#ff0000" stroke-width="2.2"/>
<line x1="171.7" y1="453.54" x2="178.5" y2="453.54" stroke="#ff0000" stroke-width="2.2"/>
<line x1="171.7" y1="472.27" x2="178.5" y2="472.27" stroke="#ff0000" stroke-width="2.2"/>
<circle cx="175.1" cy="462.91" r="3.5" fill="#ff0000"/>
<line x1="203.6" y1="459.5" x2="203.6" y2="447.58" stroke="#ff0000" stroke-width="2.2"/>
<line x1="200.2" y1="447.58" x2="207" y2="447.58" stroke="#ff0000" stroke-width="2.2"/>
<line x1="200.2" y1="459.5" x2="207" y2="459.5" stroke="#ff0000" stroke-width="2.2"/>
<circle cx="203.6" cy="453.54" r="3.5" fill="#ff0000"/>
<line x1="232.1" y1="451.24" x2="232.1" y2="441.36" stroke="#ff0000" stroke-width="2.2"/>
<line x1="228.7" y1="441.36" x2="235.5" y2="441.36" stroke="#ff0000" stroke-width="2.2"/>
<line x1="228.7" y1="451.24" x2="235.5" y2="451.24" stroke="#ff0000" stroke-width="2.2"/>
<circle cx="232.1" cy="446.3" r="3.5" fill="#ff0000"/>
<line x1="260.6" y1="459.93" x2="260.6" y2="448.86" stroke="#ff0000" stroke-width="2.2"/>
<line x1="257.2" y1="448.86" x2="264" y2="448.86" stroke="#ff0000" stroke-width="2.2"/>
<line x1="257.2" y1="459.93" x2="264" y2="459.93" stroke="#ff0000" stroke-width="2.2"/>
<circle cx="260.6" cy="454.39" r="3.5" fill="#ff0000"/>
<line x1="289.1" y1="485.05" x2="289.1" y2="481.64" stroke="#ff0000" stroke-width="2.2"/>
<line x1="285.7" y1="481.64" x2="292.5" y2="481.64" stroke="#ff0000" stroke-width="2.2"/>
<line x1="285.7" y1="485.05" x2="292.5" y2="485.05" stroke="#ff0000" stroke-width="2.2"/>
<circle cx="289.1" cy="483.34" r="3.5" fill="#ff0000"/>
<polyline points="61.1,487.6 89.6,482.49 118.1,472.27 146.6,475.68 175.1,465.46 203.6,466.31 232.1,470.83 260.6,465.46 289.1,471.42" fill="none" stroke="#000000" stroke-width="1.5"/>
<circle cx="61.1" cy="487.6" r="3.5" fill="#000000"/>
<line x1="89.6" y1="484.62" x2="89.6" y2="480.36" stroke="#000000" stroke-width="2.2"/>
<line x1="86.2" y1="480.36" x2="93" y2="480.36" stroke="#000000" stroke-width="2.2"/>
<line x1="86.2" y1="484.62" x2="93" y2="484.62" stroke="#000000" stroke-width="2.2"/>
<circle cx="89.6" cy="482.49" r="3.5" fill="#000000"/>
<line x1="118.1" y1="475.25" x2="118.1" y2="469.29" stroke="#000000" stroke-width="2.2"/>
<line x1="114.7" y1="469.29" x2="121.5" y2="469.29" stroke="#000000" stroke-width="2.2"/>
<line x1="114.7" y1="475.25" x2="121.5" y2="475.25" stroke="#000000" stroke-width="2.2"/>
<circle cx="118.1" cy="472.27" r="3.5" fill="#000000"/>
<line x1="146.6" y1="479.51" x2="146.6" y2="471.85" stroke="#000000" stroke-width="2.2"/>
<line x1="143.2" y1="471.85" x2="150" y2="471.85" stroke="#000000" stroke-width="2.2"/>
<line x1="143.2" y1="479.51" x2="150" y2="479.51" stroke="#000000" stroke-width="2.2"/>
<circle cx="146.6" cy="475.68" r="3.5" fill="#000000"/>
<line x1="175.1" y1="473.98" x2="175.1" y2="456.95" stroke="#000000" stroke-width="2.2"/>
<line x1="171.7" y1="456.95" x2="178.5" y2="456.95" stroke="#000000" stroke-width="2.2"/>
<line x1="171.7" y1="473.98" x2="178.5" y2="473.98" stroke="#000000" stroke-width="2.2"/>
<circle cx="175.1" cy="465.46" r="3.5" fill="#000000"/>
<line x1="203.6" y1="472.27" x2="203.6" y2="460.35" stroke="#000000" stroke-width="2.2"/>
<line x1="200.2" y1="460.35" x2="207" y2="460.35" stroke="#000000" stroke-width="2.2"/>
<line x1="200.2" y1="472.27" x2="207" y2="472.27" stroke="#000000" stroke-width="2.2"/>
<circle cx="203.6" cy="466.31" r="3.5" fill="#000000"/>
<line x1="232.1" y1="480.19" x2="232.1" y2="461.46" stroke="#000000" stroke-width="2.2"/>
<line x1="228.7" y1="461.46" x2="235.5" y2="461.46" stroke="#000000" stroke-width="2.2"/>
<line x1="228.7" y1="480.19" x2="235.5" y2="480.19" stroke="#000000" stroke-width="2.2"/>
<circle cx="232.1" cy="470.83" r="3.5" fill="#000000"/>
<line x1="260.6" y1="487.6" x2="260.6" y2="443.32" stroke="#000000" stroke-width="2.2"/>
<line x1="257.2" y1="443.32" x2="264" y2="443.32" stroke="#000000" stroke-width="2.2"/>
<circle cx="260.6" cy="465.46" r="3.5" fill="#000000"/>
<line x1="289.1" y1="473.98" x2="289.1" y2="468.87" stroke="#000000" stroke-width="2.2"/>
<line x1="285.7" y1="468.87" x2="292.5" y2="468.87" stroke="#000000" stroke-width="2.2"/>
<line x1="285.7" y1="473.98" x2="292.5" y2="473.98" stroke="#000000" stroke-width="2.2"/>
<circle cx="289.1" cy="471.42" r="3.5" fill="#000000"/>
<line x1="203.6" y1="319.4" x2="203.6" y2="487.6" stroke="#000" stroke-width="2.4" stroke-dasharray="6.3,6.2"/>
<line x1="104.2" y1="289.7" x2="122.6" y2="289.7" stroke="#ff0000" stroke-width="1.8"/>
<circle cx="113.4" cy="289.7" r="3.6" fill="#ff0000"/>
<text x="132.7" y="294.3" class="lg">Stem</text>
<line x1="104.2" y1="309.6" x2="122.6" y2="309.6" stroke="#000000" stroke-width="1.8"/>
<circle cx="113.4" cy="309.6" r="3.6" fill="#000000"/>
<text x="132.7" y="314.2" class="lg">Roots</text>
<line x1="188.5" y1="289.7" x2="206.9" y2="289.7" stroke="#000090" stroke-width="1.8"/>
<circle cx="197.7" cy="289.7" r="3.6" fill="#000090"/>
<text x="217" y="294.3" class="lg">Mature leaves</text>
<line x1="188.5" y1="309.6" x2="206.9" y2="309.6" stroke="#00c000" stroke-width="1.8"/>
<circle cx="197.7" cy="309.6" r="3.6" fill="#00c000"/>
<text x="217" y="314.2" class="lg">Young leaves</text>
<line x1="425.4" y1="316.3" x2="425.4" y2="488.2" stroke="#000" stroke-width="1.8"/>
<line x1="420.4" y1="487.3" x2="683.4" y2="487.3" stroke="#000" stroke-width="1.8"/>
<line x1="420.4" y1="487.3" x2="425.4" y2="487.3" stroke="#000" stroke-width="1.6"/>
<text x="418.4" y="491.8" class="tk" text-anchor="end">0.0</text>
<line x1="420.4" y1="444.77" x2="425.4" y2="444.77" stroke="#000" stroke-width="1.6"/>
<text x="418.4" y="449.27" class="tk" text-anchor="end">0.5</text>
<line x1="420.4" y1="402.25" x2="425.4" y2="402.25" stroke="#000" stroke-width="1.6"/>
<text x="418.4" y="406.75" class="tk" text-anchor="end">1.0</text>
<line x1="420.4" y1="359.73" x2="425.4" y2="359.73" stroke="#000" stroke-width="1.6"/>
<text x="418.4" y="364.23" class="tk" text-anchor="end">1.5</text>
<line x1="420.4" y1="317.2" x2="425.4" y2="317.2" stroke="#000" stroke-width="1.6"/>
<text x="418.4" y="321.7" class="tk" text-anchor="end">2.0</text>
<line x1="439.5" y1="487.3" x2="439.5" y2="492.3" stroke="#000" stroke-width="1.6"/>
<text x="439.5" y="506.5" class="tk" text-anchor="middle">2h</text>
<line x1="468" y1="487.3" x2="468" y2="492.3" stroke="#000" stroke-width="1.6"/>
<text x="468" y="506.5" class="tk" text-anchor="middle">1d</text>
<line x1="496.5" y1="487.3" x2="496.5" y2="492.3" stroke="#000" stroke-width="1.6"/>
<text x="496.5" y="506.5" class="tk" text-anchor="middle">3d</text>
<line x1="525" y1="487.3" x2="525" y2="492.3" stroke="#000" stroke-width="1.6"/>
<text x="525" y="506.5" class="tk" text-anchor="middle">5d</text>
<line x1="553.5" y1="487.3" x2="553.5" y2="492.3" stroke="#000" stroke-width="1.6"/>
<text x="553.5" y="506.5" class="tk" text-anchor="middle">7d</text>
<line x1="582" y1="487.3" x2="582" y2="492.3" stroke="#000" stroke-width="1.6"/>
<text x="582" y="506.5" class="tk" text-anchor="middle">10d</text>
<line x1="610.5" y1="487.3" x2="610.5" y2="492.3" stroke="#000" stroke-width="1.6"/>
<text x="610.5" y="506.5" class="tk" text-anchor="middle">14d</text>
<line x1="639" y1="487.3" x2="639" y2="492.3" stroke="#000" stroke-width="1.6"/>
<text x="639" y="506.5" class="tk" text-anchor="middle">21d</text>
<line x1="667.5" y1="487.3" x2="667.5" y2="492.3" stroke="#000" stroke-width="1.6"/>
<text x="667.5" y="506.5" class="tk" text-anchor="middle">30d</text>
<text x="553.6" y="533" class="ttl" text-anchor="middle">Time</text>
<text x="376.4" y="282" class="pl">B2</text>
<text transform="translate(394,402) rotate(-90)" class="ttl" text-anchor="middle">Acetamiprid-dm (µg/g)</text>
<polyline points="439.5,487.3 468,487.3 496.5,487.3 525,485.6 553.5,487.3 582,459.23 610.5,423.09 639,420.96 667.5,391.19" fill="none" stroke="#000090" stroke-width="1.5"/>
<circle cx="439.5" cy="487.3" r="3.5" fill="#000090"/>
<circle cx="468" cy="487.3" r="3.5" fill="#000090"/>
<circle cx="496.5" cy="487.3" r="3.5" fill="#000090"/>
<circle cx="525" cy="485.6" r="3.5" fill="#000090"/>
<circle cx="553.5" cy="487.3" r="3.5" fill="#000090"/>
<line x1="582" y1="471.99" x2="582" y2="446.48" stroke="#000090" stroke-width="2.2"/>
<line x1="578.6" y1="446.48" x2="585.4" y2="446.48" stroke="#000090" stroke-width="2.2"/>
<line x1="578.6" y1="471.99" x2="585.4" y2="471.99" stroke="#000090" stroke-width="2.2"/>
<circle cx="582" cy="459.23" r="3.5" fill="#000090"/>
<line x1="610.5" y1="439.25" x2="610.5" y2="406.93" stroke="#000090" stroke-width="2.2"/>
<line x1="607.1" y1="406.93" x2="613.9" y2="406.93" stroke="#000090" stroke-width="2.2"/>
<line x1="607.1" y1="439.25" x2="613.9" y2="439.25" stroke="#000090" stroke-width="2.2"/>
<circle cx="610.5" cy="423.09" r="3.5" fill="#000090"/>
<line x1="639" y1="432.02" x2="639" y2="409.9" stroke="#000090" stroke-width="2.2"/>
<line x1="635.6" y1="409.9" x2="642.4" y2="409.9" stroke="#000090" stroke-width="2.2"/>
<line x1="635.6" y1="432.02" x2="642.4" y2="432.02" stroke="#000090" stroke-width="2.2"/>
<circle cx="639" cy="420.96" r="3.5" fill="#000090"/>
<line x1="667.5" y1="407.35" x2="667.5" y2="375.03" stroke="#000090" stroke-width="2.2"/>
<line x1="664.1" y1="375.03" x2="670.9" y2="375.03" stroke="#000090" stroke-width="2.2"/>
<line x1="664.1" y1="407.35" x2="670.9" y2="407.35" stroke="#000090" stroke-width="2.2"/>
<circle cx="667.5" cy="391.19" r="3.5" fill="#000090"/>
<polyline points="439.5,487.3 468,487.3 496.5,487.3 525,487.3 553.5,487.3 582,478.37 610.5,401.82 639,398.85 667.5,378.01" fill="none" stroke="#00c000" stroke-width="1.5"/>
<circle cx="439.5" cy="487.3" r="3.5" fill="#00c000"/>
<circle cx="468" cy="487.3" r="3.5" fill="#00c000"/>
<circle cx="496.5" cy="487.3" r="3.5" fill="#00c000"/>
<circle cx="525" cy="487.3" r="3.5" fill="#00c000"/>
<circle cx="553.5" cy="487.3" r="3.5" fill="#00c000"/>
<line x1="582" y1="487.3" x2="582" y2="470.29" stroke="#00c000" stroke-width="2.2"/>
<line x1="578.6" y1="470.29" x2="585.4" y2="470.29" stroke="#00c000" stroke-width="2.2"/>
<circle cx="582" cy="478.37" r="3.5" fill="#00c000"/>
<line x1="610.5" y1="468.59" x2="610.5" y2="336.76" stroke="#00c000" stroke-width="2.2"/>
<line x1="607.1" y1="336.76" x2="613.9" y2="336.76" stroke="#00c000" stroke-width="2.2"/>
<line x1="607.1" y1="468.59" x2="613.9" y2="468.59" stroke="#00c000" stroke-width="2.2"/>
<circle cx="610.5" cy="401.82" r="3.5" fill="#00c000"/>
<line x1="639" y1="427.76" x2="639" y2="369.93" stroke="#00c000" stroke-width="2.2"/>
<line x1="635.6" y1="369.93" x2="642.4" y2="369.93" stroke="#00c000" stroke-width="2.2"/>
<line x1="635.6" y1="427.76" x2="642.4" y2="427.76" stroke="#00c000" stroke-width="2.2"/>
<circle cx="639" cy="398.85" r="3.5" fill="#00c000"/>
<line x1="667.5" y1="420.11" x2="667.5" y2="335.91" stroke="#00c000" stroke-width="2.2"/>
<line x1="664.1" y1="335.91" x2="670.9" y2="335.91" stroke="#00c000" stroke-width="2.2"/>
<line x1="664.1" y1="420.11" x2="670.9" y2="420.11" stroke="#00c000" stroke-width="2.2"/>
<circle cx="667.5" cy="378.01" r="3.5" fill="#00c000"/>
<polyline points="439.5,487.3 468,487.3 496.5,480.5 525,469.44 553.5,466.04 582,449.03 610.5,454.56 639,466.04 667.5,477.94" fill="none" stroke="#ff0000" stroke-width="1.5"/>
<circle cx="439.5" cy="487.3" r="3.5" fill="#ff0000"/>
<circle cx="468" cy="487.3" r="3.5" fill="#ff0000"/>
<line x1="496.5" y1="483.9" x2="496.5" y2="478.8" stroke="#ff0000" stroke-width="2.2"/>
<line x1="493.1" y1="478.8" x2="499.9" y2="478.8" stroke="#ff0000" stroke-width="2.2"/>
<line x1="493.1" y1="483.9" x2="499.9" y2="483.9" stroke="#ff0000" stroke-width="2.2"/>
<circle cx="496.5" cy="480.5" r="3.5" fill="#ff0000"/>
<line x1="525" y1="471.99" x2="525" y2="468.59" stroke="#ff0000" stroke-width="2.2"/>
<line x1="521.6" y1="468.59" x2="528.4" y2="468.59" stroke="#ff0000" stroke-width="2.2"/>
<line x1="521.6" y1="471.99" x2="528.4" y2="471.99" stroke="#ff0000" stroke-width="2.2"/>
<circle cx="525" cy="469.44" r="3.5" fill="#ff0000"/>
<line x1="553.5" y1="470.29" x2="553.5" y2="461.79" stroke="#ff0000" stroke-width="2.2"/>
<line x1="550.1" y1="461.79" x2="556.9" y2="461.79" stroke="#ff0000" stroke-width="2.2"/>
<line x1="550.1" y1="470.29" x2="556.9" y2="470.29" stroke="#ff0000" stroke-width="2.2"/>
<circle cx="553.5" cy="466.04" r="3.5" fill="#ff0000"/>
<line x1="582" y1="468.59" x2="582" y2="429.47" stroke="#ff0000" stroke-width="2.2"/>
<line x1="578.6" y1="429.47" x2="585.4" y2="429.47" stroke="#ff0000" stroke-width="2.2"/>
<line x1="578.6" y1="468.59" x2="585.4" y2="468.59" stroke="#ff0000" stroke-width="2.2"/>
<circle cx="582" cy="449.03" r="3.5" fill="#ff0000"/>
<line x1="610.5" y1="471.14" x2="610.5" y2="437.97" stroke="#ff0000" stroke-width="2.2"/>
<line x1="607.1" y1="437.97" x2="613.9" y2="437.97" stroke="#ff0000" stroke-width="2.2"/>
<line x1="607.1" y1="471.14" x2="613.9" y2="471.14" stroke="#ff0000" stroke-width="2.2"/>
<circle cx="610.5" cy="454.56" r="3.5" fill="#ff0000"/>
<line x1="639" y1="474.54" x2="639" y2="457.53" stroke="#ff0000" stroke-width="2.2"/>
<line x1="635.6" y1="457.53" x2="642.4" y2="457.53" stroke="#ff0000" stroke-width="2.2"/>
<line x1="635.6" y1="474.54" x2="642.4" y2="474.54" stroke="#ff0000" stroke-width="2.2"/>
<circle cx="639" cy="466.04" r="3.5" fill="#ff0000"/>
<line x1="667.5" y1="482.2" x2="667.5" y2="473.69" stroke="#ff0000" stroke-width="2.2"/>
<line x1="664.1" y1="473.69" x2="670.9" y2="473.69" stroke="#ff0000" stroke-width="2.2"/>
<line x1="664.1" y1="482.2" x2="670.9" y2="482.2" stroke="#ff0000" stroke-width="2.2"/>
<circle cx="667.5" cy="477.94" r="3.5" fill="#ff0000"/>
<polyline points="439.5,487.3 468,473.69 496.5,460.93 525,474.12 553.5,466.89 582,458.81 610.5,466.89 639,472.84 667.5,479.22" fill="none" stroke="#000000" stroke-width="1.5"/>
<circle cx="439.5" cy="487.3" r="3.5" fill="#000000"/>
<line x1="468" y1="487.3" x2="468" y2="454.13" stroke="#000000" stroke-width="2.2"/>
<line x1="464.6" y1="454.13" x2="471.4" y2="454.13" stroke="#000000" stroke-width="2.2"/>
<circle cx="468" cy="473.69" r="3.5" fill="#000000"/>
<line x1="496.5" y1="483.05" x2="496.5" y2="438.82" stroke="#000000" stroke-width="2.2"/>
<line x1="493.1" y1="438.82" x2="499.9" y2="438.82" stroke="#000000" stroke-width="2.2"/>
<line x1="493.1" y1="483.05" x2="499.9" y2="483.05" stroke="#000000" stroke-width="2.2"/>
<circle cx="496.5" cy="460.93" r="3.5" fill="#000000"/>
<line x1="525" y1="477.94" x2="525" y2="470.29" stroke="#000000" stroke-width="2.2"/>
<line x1="521.6" y1="470.29" x2="528.4" y2="470.29" stroke="#000000" stroke-width="2.2"/>
<line x1="521.6" y1="477.94" x2="528.4" y2="477.94" stroke="#000000" stroke-width="2.2"/>
<circle cx="525" cy="474.12" r="3.5" fill="#000000"/>
<line x1="553.5" y1="475.39" x2="553.5" y2="458.38" stroke="#000000" stroke-width="2.2"/>
<line x1="550.1" y1="458.38" x2="556.9" y2="458.38" stroke="#000000" stroke-width="2.2"/>
<line x1="550.1" y1="475.39" x2="556.9" y2="475.39" stroke="#000000" stroke-width="2.2"/>
<circle cx="553.5" cy="466.89" r="3.5" fill="#000000"/>
<line x1="582" y1="473.27" x2="582" y2="444.35" stroke="#000000" stroke-width="2.2"/>
<line x1="578.6" y1="444.35" x2="585.4" y2="444.35" stroke="#000000" stroke-width="2.2"/>
<line x1="578.6" y1="473.27" x2="585.4" y2="473.27" stroke="#000000" stroke-width="2.2"/>
<circle cx="582" cy="458.81" r="3.5" fill="#000000"/>
<line x1="610.5" y1="487.3" x2="610.5" y2="444.77" stroke="#000000" stroke-width="2.2"/>
<line x1="607.1" y1="444.77" x2="613.9" y2="444.77" stroke="#000000" stroke-width="2.2"/>
<circle cx="610.5" cy="466.89" r="3.5" fill="#000000"/>
<line x1="639" y1="481.35" x2="639" y2="464.34" stroke="#000000" stroke-width="2.2"/>
<line x1="635.6" y1="464.34" x2="642.4" y2="464.34" stroke="#000000" stroke-width="2.2"/>
<line x1="635.6" y1="481.35" x2="642.4" y2="481.35" stroke="#000000" stroke-width="2.2"/>
<circle cx="639" cy="472.84" r="3.5" fill="#000000"/>
<line x1="667.5" y1="485.17" x2="667.5" y2="473.27" stroke="#000000" stroke-width="2.2"/>
<line x1="664.1" y1="473.27" x2="670.9" y2="473.27" stroke="#000000" stroke-width="2.2"/>
<line x1="664.1" y1="485.17" x2="670.9" y2="485.17" stroke="#000000" stroke-width="2.2"/>
<circle cx="667.5" cy="479.22" r="3.5" fill="#000000"/>
<line x1="582" y1="319.4" x2="582" y2="487.3" stroke="#000" stroke-width="2.4" stroke-dasharray="6.3,6.2"/>
<line x1="482.3" y1="289.7" x2="500.7" y2="289.7" stroke="#ff0000" stroke-width="1.8"/>
<circle cx="491.5" cy="289.7" r="3.6" fill="#ff0000"/>
<text x="510.8" y="294.3" class="lg">Stem</text>
<line x1="482.3" y1="309.6" x2="500.7" y2="309.6" stroke="#000000" stroke-width="1.8"/>
<circle cx="491.5" cy="309.6" r="3.6" fill="#000000"/>
<text x="510.8" y="314.2" class="lg">Roots</text>
<line x1="567.5" y1="289.7" x2="585.9" y2="289.7" stroke="#000090" stroke-width="1.8"/>
<circle cx="576.7" cy="289.7" r="3.6" fill="#000090"/>
<text x="595.1" y="294.3" class="lg">Mature leaves</text>
<line x1="567.5" y1="309.6" x2="585.9" y2="309.6" stroke="#00c000" stroke-width="1.8"/>
<circle cx="576.7" cy="309.6" r="3.6" fill="#00c000"/>
<text x="595.1" y="314.2" class="lg">Young leaves</text>
<rect x="84.03" y="758.73" width="5.2" height="0.87" fill="#000000"/>
<line x1="86.63" y1="758.73" x2="86.63" y2="758.21" stroke="#111" stroke-width="1.5"/>
<line x1="85.23" y1="758.21" x2="88.03" y2="758.21" stroke="#111" stroke-width="1.8"/>
<rect x="112.81" y="755.26" width="5.2" height="4.34" fill="#000000"/>
<line x1="115.41" y1="755.26" x2="115.41" y2="753" stroke="#111" stroke-width="1.5"/>
<line x1="114.01" y1="753" x2="116.81" y2="753" stroke="#111" stroke-width="1.8"/>
<rect x="118.51" y="749.7" width="5.2" height="9.9" fill="#a00000"/>
<line x1="121.11" y1="749.7" x2="121.11" y2="745.53" stroke="#111" stroke-width="1.5"/>
<line x1="119.71" y1="745.53" x2="122.51" y2="745.53" stroke="#111" stroke-width="1.8"/>
<rect x="141.59" y="756.82" width="5.2" height="2.78" fill="#000000"/>
<line x1="144.19" y1="756.82" x2="144.19" y2="754.39" stroke="#111" stroke-width="1.5"/>
<line x1="142.79" y1="754.39" x2="145.59" y2="754.39" stroke="#111" stroke-width="1.8"/>
<rect x="147.29" y="745.01" width="5.2" height="14.59" fill="#a00000"/>
<line x1="149.89" y1="745.01" x2="149.89" y2="738.58" stroke="#111" stroke-width="1.5"/>
<line x1="148.49" y1="738.58" x2="151.29" y2="738.58" stroke="#111" stroke-width="1.8"/>
<rect x="158.69" y="753.69" width="5.2" height="5.91" fill="#006000"/>
<rect x="170.37" y="754.91" width="5.2" height="4.69" fill="#000000"/>
<line x1="172.97" y1="754.91" x2="172.97" y2="751.44" stroke="#111" stroke-width="1.5"/>
<line x1="171.57" y1="751.44" x2="174.37" y2="751.44" stroke="#111" stroke-width="1.8"/>
<rect x="176.07" y="736.15" width="5.2" height="23.45" fill="#a00000"/>
<line x1="178.67" y1="736.15" x2="178.67" y2="729.03" stroke="#111" stroke-width="1.5"/>
<line x1="177.27" y1="729.03" x2="180.07" y2="729.03" stroke="#111" stroke-width="1.8"/>
<rect x="187.47" y="752.65" width="5.2" height="6.95" fill="#006000"/>
<line x1="190.07" y1="752.65" x2="190.07" y2="745.01" stroke="#111" stroke-width="1.5"/>
<line x1="188.67" y1="745.01" x2="191.47" y2="745.01" stroke="#111" stroke-width="1.8"/>
<rect x="199.15" y="754.04" width="5.2" height="5.56" fill="#000000"/>
<line x1="201.75" y1="754.04" x2="201.75" y2="750.74" stroke="#111" stroke-width="1.5"/>
<line x1="200.35" y1="750.74" x2="203.15" y2="750.74" stroke="#111" stroke-width="1.8"/>
<rect x="204.85" y="733.72" width="5.2" height="25.88" fill="#a00000"/>
<line x1="207.45" y1="733.72" x2="207.45" y2="727.81" stroke="#111" stroke-width="1.5"/>
<line x1="206.05" y1="727.81" x2="208.85" y2="727.81" stroke="#111" stroke-width="1.8"/>
<rect x="210.55" y="732.68" width="5.2" height="26.92" fill="#00c000"/>
<line x1="213.15" y1="732.68" x2="213.15" y2="713.74" stroke="#111" stroke-width="1.5"/>
<line x1="211.75" y1="713.74" x2="214.55" y2="713.74" stroke="#111" stroke-width="1.8"/>
<rect x="216.25" y="716.35" width="5.2" height="43.25" fill="#006000"/>
<line x1="218.85" y1="716.35" x2="218.85" y2="705.75" stroke="#111" stroke-width="1.5"/>
<line x1="217.45" y1="705.75" x2="220.25" y2="705.75" stroke="#111" stroke-width="1.8"/>
<rect x="227.93" y="751.61" width="5.2" height="7.99" fill="#000000"/>
<line x1="230.53" y1="751.61" x2="230.53" y2="742.58" stroke="#111" stroke-width="1.5"/>
<line x1="229.13" y1="742.58" x2="231.93" y2="742.58" stroke="#111" stroke-width="1.8"/>
<rect x="233.63" y="716.87" width="5.2" height="42.73" fill="#a00000"/>
<line x1="236.23" y1="716.87" x2="236.23" y2="712.18" stroke="#111" stroke-width="1.5"/>
<line x1="234.83" y1="712.18" x2="237.63" y2="712.18" stroke="#111" stroke-width="1.8"/>
<rect x="239.33" y="710.44" width="5.2" height="49.16" fill="#00c000"/>
<line x1="241.93" y1="710.44" x2="241.93" y2="705.75" stroke="#111" stroke-width="1.5"/>
<line x1="240.53" y1="705.75" x2="243.33" y2="705.75" stroke="#111" stroke-width="1.8"/>
<rect x="245.03" y="710.44" width="5.2" height="49.16" fill="#006000"/>
<line x1="247.63" y1="710.44" x2="247.63" y2="701.93" stroke="#111" stroke-width="1.5"/>
<line x1="246.23" y1="701.93" x2="249.03" y2="701.93" stroke="#111" stroke-width="1.8"/>
<rect x="256.71" y="747.61" width="5.2" height="11.99" fill="#000000"/>
<line x1="259.31" y1="747.61" x2="259.31" y2="737.71" stroke="#111" stroke-width="1.5"/>
<line x1="257.91" y1="737.71" x2="260.71" y2="737.71" stroke="#111" stroke-width="1.8"/>
<rect x="262.41" y="718.43" width="5.2" height="41.17" fill="#a00000"/>
<line x1="265.01" y1="718.43" x2="265.01" y2="710.79" stroke="#111" stroke-width="1.5"/>
<line x1="263.61" y1="710.79" x2="266.41" y2="710.79" stroke="#111" stroke-width="1.8"/>
<rect x="268.11" y="701.93" width="5.2" height="57.67" fill="#00c000"/>
<line x1="270.71" y1="701.93" x2="270.71" y2="687.86" stroke="#111" stroke-width="1.5"/>
<line x1="269.31" y1="687.86" x2="272.11" y2="687.86" stroke="#111" stroke-width="1.8"/>
<rect x="273.81" y="710.79" width="5.2" height="48.81" fill="#006000"/>
<line x1="276.41" y1="710.79" x2="276.41" y2="698.81" stroke="#111" stroke-width="1.5"/>
<line x1="275.01" y1="698.81" x2="277.81" y2="698.81" stroke="#111" stroke-width="1.8"/>
<rect x="285.49" y="714.79" width="5.2" height="44.81" fill="#000000"/>
<line x1="288.09" y1="714.79" x2="288.09" y2="699.5" stroke="#111" stroke-width="1.5"/>
<line x1="286.69" y1="699.5" x2="289.49" y2="699.5" stroke="#111" stroke-width="1.8"/>
<rect x="291.19" y="735.63" width="5.2" height="23.97" fill="#a00000"/>
<line x1="293.79" y1="735.63" x2="293.79" y2="723.82" stroke="#111" stroke-width="1.5"/>
<line x1="292.39" y1="723.82" x2="295.19" y2="723.82" stroke="#111" stroke-width="1.8"/>
<rect x="296.89" y="640.96" width="5.2" height="118.64" fill="#00c000"/>
<line x1="299.49" y1="640.96" x2="299.49" y2="627.24" stroke="#111" stroke-width="1.5"/>
<line x1="298.09" y1="627.24" x2="300.89" y2="627.24" stroke="#111" stroke-width="1.8"/>
<rect x="302.59" y="663.54" width="5.2" height="96.06" fill="#006000"/>
<line x1="305.19" y1="663.54" x2="305.19" y2="648.61" stroke="#111" stroke-width="1.5"/>
<line x1="303.79" y1="648.61" x2="306.59" y2="648.61" stroke="#111" stroke-width="1.8"/>
<rect x="106.3" y="555" width="18.4" height="7.8" fill="#000000"/>
<text x="135.8" y="563.5" class="lg">Roots</text>
<rect x="106.3" y="574.4" width="18.4" height="7.8" fill="#a00000"/>
<text x="135.8" y="582.9" class="lg">Stem</text>
<rect x="184.5" y="555" width="18.4" height="7.8" fill="#00c000"/>
<text x="213.9" y="563.5" class="lg">Young leaves</text>
<rect x="184.5" y="574.4" width="18.4" height="7.8" fill="#006000"/>
<text x="213.9" y="582.9" class="lg">Mature leaves</text>
<line x1="51.3" y1="585" x2="51.3" y2="760.5" stroke="#000" stroke-width="1.8"/>
<line x1="46.3" y1="759.6" x2="312" y2="759.6" stroke="#000" stroke-width="1.8"/>
<line x1="46.3" y1="759.6" x2="51.3" y2="759.6" stroke="#000" stroke-width="1.6"/>
<text x="44.3" y="764.1" class="tk" text-anchor="end">0.00</text>
<line x1="46.3" y1="724.86" x2="51.3" y2="724.86" stroke="#000" stroke-width="1.6"/>
<text x="44.3" y="729.36" class="tk" text-anchor="end">0.02</text>
<line x1="46.3" y1="690.12" x2="51.3" y2="690.12" stroke="#000" stroke-width="1.6"/>
<text x="44.3" y="694.62" class="tk" text-anchor="end">0.04</text>
<line x1="46.3" y1="655.38" x2="51.3" y2="655.38" stroke="#000" stroke-width="1.6"/>
<text x="44.3" y="659.88" class="tk" text-anchor="end">0.06</text>
<line x1="46.3" y1="620.64" x2="51.3" y2="620.64" stroke="#000" stroke-width="1.6"/>
<text x="44.3" y="625.14" class="tk" text-anchor="end">0.08</text>
<line x1="46.3" y1="585.9" x2="51.3" y2="585.9" stroke="#000" stroke-width="1.6"/>
<text x="44.3" y="590.4" class="tk" text-anchor="end">0.10</text>
<line x1="66.4" y1="759.6" x2="66.4" y2="764.6" stroke="#000" stroke-width="1.6"/>
<text x="66.4" y="777.8" class="tk" text-anchor="middle">2h</text>
<line x1="95.18" y1="759.6" x2="95.18" y2="764.6" stroke="#000" stroke-width="1.6"/>
<text x="95.18" y="777.8" class="tk" text-anchor="middle">1d</text>
<line x1="123.96" y1="759.6" x2="123.96" y2="764.6" stroke="#000" stroke-width="1.6"/>
<text x="123.96" y="777.8" class="tk" text-anchor="middle">3d</text>
<line x1="152.74" y1="759.6" x2="152.74" y2="764.6" stroke="#000" stroke-width="1.6"/>
<text x="152.74" y="777.8" class="tk" text-anchor="middle">5d</text>
<line x1="181.52" y1="759.6" x2="181.52" y2="764.6" stroke="#000" stroke-width="1.6"/>
<text x="181.52" y="777.8" class="tk" text-anchor="middle">7d</text>
<line x1="210.3" y1="759.6" x2="210.3" y2="764.6" stroke="#000" stroke-width="1.6"/>
<text x="210.3" y="777.8" class="tk" text-anchor="middle">10d</text>
<line x1="239.08" y1="759.6" x2="239.08" y2="764.6" stroke="#000" stroke-width="1.6"/>
<text x="239.08" y="777.8" class="tk" text-anchor="middle">14d</text>
<line x1="267.86" y1="759.6" x2="267.86" y2="764.6" stroke="#000" stroke-width="1.6"/>
<text x="267.86" y="777.8" class="tk" text-anchor="middle">21d</text>
<line x1="296.64" y1="759.6" x2="296.64" y2="764.6" stroke="#000" stroke-width="1.6"/>
<text x="296.64" y="777.8" class="tk" text-anchor="middle">30d</text>
<text x="184.6" y="804" class="ttl" text-anchor="middle">Time</text>
<text x="4.6" y="554.8" class="pl">A3</text>
<text transform="translate(11.3,678.5) rotate(-90)" class="ttl" text-anchor="middle">Acetamiprid-dm/Acetamiprid</text>
<rect x="460.99" y="757.18" width="5" height="3.72" fill="#000000"/>
<line x1="463.49" y1="757.18" x2="463.49" y2="749.91" stroke="#111" stroke-width="1.5"/>
<line x1="462.09" y1="749.91" x2="464.89" y2="749.91" stroke="#111" stroke-width="1.8"/>
<rect x="489.13" y="755.66" width="5" height="5.24" fill="#000000"/>
<line x1="491.63" y1="755.66" x2="491.63" y2="749.06" stroke="#111" stroke-width="1.5"/>
<line x1="490.23" y1="749.06" x2="493.03" y2="749.06" stroke="#111" stroke-width="1.8"/>
<rect x="494.63" y="753.12" width="5" height="7.78" fill="#a00000"/>
<line x1="497.13" y1="753.12" x2="497.13" y2="747.37" stroke="#111" stroke-width="1.5"/>
<line x1="495.73" y1="747.37" x2="498.53" y2="747.37" stroke="#111" stroke-width="1.8"/>
<rect x="517.27" y="757.86" width="5" height="3.04" fill="#000000"/>
<line x1="519.77" y1="757.86" x2="519.77" y2="756.17" stroke="#111" stroke-width="1.5"/>
<line x1="518.37" y1="756.17" x2="521.17" y2="756.17" stroke="#111" stroke-width="1.8"/>
<rect x="522.77" y="741.12" width="5" height="19.78" fill="#a00000"/>
<line x1="525.27" y1="741.12" x2="525.27" y2="736.72" stroke="#111" stroke-width="1.5"/>
<line x1="523.87" y1="736.72" x2="526.67" y2="736.72" stroke="#111" stroke-width="1.8"/>
<rect x="533.77" y="754.98" width="5" height="5.92" fill="#006000"/>
<rect x="545.41" y="757.69" width="5" height="3.21" fill="#000000"/>
<line x1="547.91" y1="757.69" x2="547.91" y2="755.66" stroke="#111" stroke-width="1.5"/>
<line x1="546.51" y1="755.66" x2="549.31" y2="755.66" stroke="#111" stroke-width="1.8"/>
<rect x="550.91" y="740.95" width="5" height="19.95" fill="#a00000"/>
<line x1="553.41" y1="740.95" x2="553.41" y2="733.51" stroke="#111" stroke-width="1.5"/>
<line x1="552.01" y1="733.51" x2="554.81" y2="733.51" stroke="#111" stroke-width="1.8"/>
<rect x="561.91" y="759.38" width="5" height="1.52" fill="#006000"/>
<rect x="573.55" y="754.98" width="5" height="5.92" fill="#000000"/>
<line x1="576.05" y1="754.98" x2="576.05" y2="751.6" stroke="#111" stroke-width="1.5"/>
<line x1="574.65" y1="751.6" x2="577.45" y2="751.6" stroke="#111" stroke-width="1.8"/>
<rect x="579.05" y="728.94" width="5" height="31.96" fill="#a00000"/>
<line x1="581.55" y1="728.94" x2="581.55" y2="716.09" stroke="#111" stroke-width="1.5"/>
<line x1="580.15" y1="716.09" x2="582.95" y2="716.09" stroke="#111" stroke-width="1.8"/>
<rect x="584.55" y="738.75" width="5" height="22.15" fill="#00c000"/>
<line x1="587.05" y1="738.75" x2="587.05" y2="719.98" stroke="#111" stroke-width="1.5"/>
<line x1="585.65" y1="719.98" x2="588.45" y2="719.98" stroke="#111" stroke-width="1.8"/>
<rect x="590.05" y="710.17" width="5" height="50.73" fill="#006000"/>
<line x1="592.55" y1="710.17" x2="592.55" y2="695.63" stroke="#111" stroke-width="1.5"/>
<line x1="591.15" y1="695.63" x2="593.95" y2="695.63" stroke="#111" stroke-width="1.8"/>
<rect x="601.69" y="735.7" width="5" height="25.2" fill="#000000"/>
<line x1="604.19" y1="735.7" x2="604.19" y2="721.16" stroke="#111" stroke-width="1.5"/>
<line x1="602.79" y1="721.16" x2="605.59" y2="721.16" stroke="#111" stroke-width="1.8"/>
<rect x="607.19" y="708.14" width="5" height="52.76" fill="#a00000"/>
<line x1="609.69" y1="708.14" x2="609.69" y2="681.42" stroke="#111" stroke-width="1.5"/>
<line x1="608.29" y1="681.42" x2="611.09" y2="681.42" stroke="#111" stroke-width="1.8"/>
<rect x="612.69" y="687" width="5" height="73.9" fill="#00c000"/>
<line x1="615.19" y1="687" x2="615.19" y2="677.53" stroke="#111" stroke-width="1.5"/>
<line x1="613.79" y1="677.53" x2="616.59" y2="677.53" stroke="#111" stroke-width="1.8"/>
<rect x="618.19" y="689.03" width="5" height="71.87" fill="#006000"/>
<line x1="620.69" y1="689.03" x2="620.69" y2="676.86" stroke="#111" stroke-width="1.5"/>
<line x1="619.29" y1="676.86" x2="622.09" y2="676.86" stroke="#111" stroke-width="1.8"/>
<rect x="629.83" y="736.21" width="5" height="24.69" fill="#000000"/>
<line x1="632.33" y1="736.21" x2="632.33" y2="718.46" stroke="#111" stroke-width="1.5"/>
<line x1="630.93" y1="718.46" x2="633.73" y2="718.46" stroke="#111" stroke-width="1.8"/>
<rect x="635.33" y="712.03" width="5" height="48.87" fill="#a00000"/>
<line x1="637.83" y1="712.03" x2="637.83" y2="696.64" stroke="#111" stroke-width="1.5"/>
<line x1="636.43" y1="696.64" x2="639.23" y2="696.64" stroke="#111" stroke-width="1.8"/>
<rect x="640.83" y="685.99" width="5" height="74.91" fill="#00c000"/>
<line x1="643.33" y1="685.99" x2="643.33" y2="671.95" stroke="#111" stroke-width="1.5"/>
<line x1="641.93" y1="671.95" x2="644.73" y2="671.95" stroke="#111" stroke-width="1.8"/>
<rect x="646.33" y="699.01" width="5" height="61.89" fill="#006000"/>
<line x1="648.83" y1="699.01" x2="648.83" y2="691.23" stroke="#111" stroke-width="1.5"/>
<line x1="647.43" y1="691.23" x2="650.23" y2="691.23" stroke="#111" stroke-width="1.8"/>
<rect x="657.97" y="744.16" width="5" height="16.74" fill="#000000"/>
<line x1="660.47" y1="744.16" x2="660.47" y2="727.42" stroke="#111" stroke-width="1.5"/>
<line x1="659.07" y1="727.42" x2="661.87" y2="727.42" stroke="#111" stroke-width="1.8"/>
<rect x="663.47" y="716.09" width="5" height="44.81" fill="#a00000"/>
<line x1="665.97" y1="716.09" x2="665.97" y2="696.13" stroke="#111" stroke-width="1.5"/>
<line x1="664.57" y1="696.13" x2="667.37" y2="696.13" stroke="#111" stroke-width="1.8"/>
<rect x="668.97" y="636.1" width="5" height="124.8" fill="#00c000"/>
<line x1="671.47" y1="636.1" x2="671.47" y2="623.08" stroke="#111" stroke-width="1.5"/>
<line x1="670.07" y1="623.08" x2="672.87" y2="623.08" stroke="#111" stroke-width="1.8"/>
<rect x="674.47" y="651.49" width="5" height="109.41" fill="#006000"/>
<line x1="676.97" y1="651.49" x2="676.97" y2="638.47" stroke="#111" stroke-width="1.5"/>
<line x1="675.57" y1="638.47" x2="678.37" y2="638.47" stroke="#111" stroke-width="1.8"/>
<rect x="483.8" y="561.4" width="18.4" height="7.8" fill="#000000"/>
<text x="512.3" y="569.9" class="lg">Roots</text>
<rect x="483.8" y="580.4" width="18.4" height="7.8" fill="#a00000"/>
<text x="512.3" y="588.9" class="lg">Stem</text>
<rect x="559.5" y="560.6" width="18.4" height="7.8" fill="#00c000"/>
<text x="588" y="569.1" class="lg">Young leaves</text>
<rect x="559.5" y="579.6" width="18.4" height="7.8" fill="#006000"/>
<text x="588" y="588.1" class="lg">Mature leaves</text>
<line x1="428.8" y1="590.9" x2="428.8" y2="761.8" stroke="#000" stroke-width="1.8"/>
<line x1="423.8" y1="760.9" x2="683.9" y2="760.9" stroke="#000" stroke-width="1.8"/>
<line x1="423.8" y1="760.9" x2="428.8" y2="760.9" stroke="#000" stroke-width="1.6"/>
<text x="421.8" y="765.4" class="tk" text-anchor="end">0.00</text>
<line x1="423.8" y1="727.08" x2="428.8" y2="727.08" stroke="#000" stroke-width="1.6"/>
<text x="421.8" y="731.58" class="tk" text-anchor="end">0.02</text>
<line x1="423.8" y1="693.26" x2="428.8" y2="693.26" stroke="#000" stroke-width="1.6"/>
<text x="421.8" y="697.76" class="tk" text-anchor="end">0.04</text>
<line x1="423.8" y1="659.44" x2="428.8" y2="659.44" stroke="#000" stroke-width="1.6"/>
<text x="421.8" y="663.94" class="tk" text-anchor="end">0.06</text>
<line x1="423.8" y1="625.62" x2="428.8" y2="625.62" stroke="#000" stroke-width="1.6"/>
<text x="421.8" y="630.12" class="tk" text-anchor="end">0.08</text>
<line x1="423.8" y1="591.8" x2="428.8" y2="591.8" stroke="#000" stroke-width="1.6"/>
<text x="421.8" y="596.3" class="tk" text-anchor="end">0.10</text>
<line x1="443.6" y1="760.9" x2="443.6" y2="765.9" stroke="#000" stroke-width="1.6"/>
<text x="443.6" y="779.5" class="tk" text-anchor="middle">2h</text>
<line x1="471.74" y1="760.9" x2="471.74" y2="765.9" stroke="#000" stroke-width="1.6"/>
<text x="471.74" y="779.5" class="tk" text-anchor="middle">1d</text>
<line x1="499.88" y1="760.9" x2="499.88" y2="765.9" stroke="#000" stroke-width="1.6"/>
<text x="499.88" y="779.5" class="tk" text-anchor="middle">3d</text>
<line x1="528.02" y1="760.9" x2="528.02" y2="765.9" stroke="#000" stroke-width="1.6"/>
<text x="528.02" y="779.5" class="tk" text-anchor="middle">5d</text>
<line x1="556.16" y1="760.9" x2="556.16" y2="765.9" stroke="#000" stroke-width="1.6"/>
<text x="556.16" y="779.5" class="tk" text-anchor="middle">7d</text>
<line x1="584.3" y1="760.9" x2="584.3" y2="765.9" stroke="#000" stroke-width="1.6"/>
<text x="584.3" y="779.5" class="tk" text-anchor="middle">10d</text>
<line x1="612.44" y1="760.9" x2="612.44" y2="765.9" stroke="#000" stroke-width="1.6"/>
<text x="612.44" y="779.5" class="tk" text-anchor="middle">14d</text>
<line x1="640.58" y1="760.9" x2="640.58" y2="765.9" stroke="#000" stroke-width="1.6"/>
<text x="640.58" y="779.5" class="tk" text-anchor="middle">21d</text>
<line x1="668.72" y1="760.9" x2="668.72" y2="765.9" stroke="#000" stroke-width="1.6"/>
<text x="668.72" y="779.5" class="tk" text-anchor="middle">30d</text>
<text x="559" y="805" class="ttl" text-anchor="middle">Time</text>
<text x="376.4" y="554.8" class="pl">B3</text>
<text transform="translate(390,682.2) rotate(-90)" class="ttl" text-anchor="middle">Acetamiprid-dm/Acetamiprid</text>
</svg>
</body></html>
